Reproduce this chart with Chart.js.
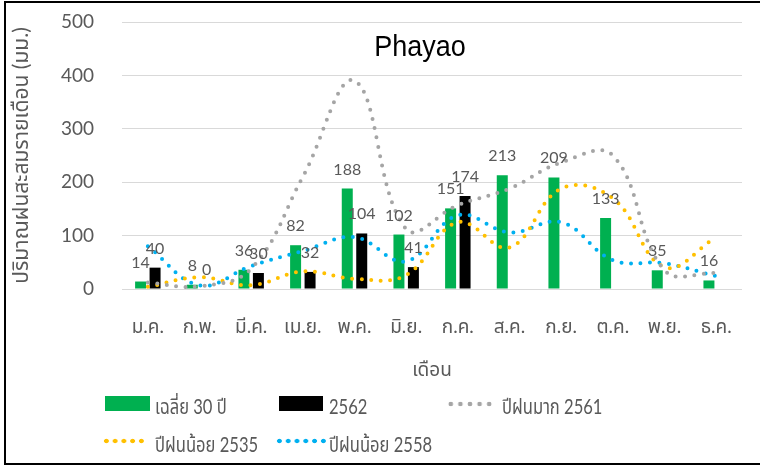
<!DOCTYPE html>
<html>
<head>
<meta charset="utf-8">
<script src="https://cdn.jsdelivr.net/npm/chart.js@4.4.0/dist/chart.umd.min.js"></script>
<style>
    body { margin: 0; background: #fff; }
    #wrap { position: relative; width: 760px; height: 467px; overflow: hidden; font-family: Lato, "Noto Sans Thai", "Noto Sans", sans-serif; color: #595959; }
    #frame { position: absolute; left: 4px; top: 1px; width: 800px; height: 464px; border: 2px solid #000; box-sizing: border-box; }
    #chart { position: absolute; left: 0; top: 0; }
    #title { position: absolute; left: 320px; width: 200px; top: 33px; text-align: center; font: 27px/27px "Liberation Sans", Arial, sans-serif; color: #000; transform: scaleY(1.12); }
    .lg-text { position: absolute; font-size: 18px; line-height: 18px; white-space: nowrap; transform: scale(0.92, 1.15); transform-origin: left center; }
    .lg-box { position: absolute; height: 15px; }
    .lg-dots { position: absolute; height: 6px; background-repeat: repeat-x; }
</style>
</head>
<body>
<div id="wrap">
    <canvas id="chart" width="760" height="467"></canvas>
    <div id="frame"></div>
    <div id="title">Phayao</div>
    <div id="legend"></div>
</div>
<script>
    const months = ["ม.ค.", "ก.พ.", "มี.ค.", "เม.ย.", "พ.ค.", "มิ.ย.", "ก.ค.", "ส.ค.", "ก.ย.", "ต.ค.", "พ.ย.", "ธ.ค."];
    const avg30 = [14, 8, 36, 82, 188, 102, 151, 213, 209, 133, 35, 16];
    const rain2562 = [40, 0, 30, 32, 104, 41, 174, null, null, null, null, null];
    const wet2561 = [12, 5, 38, 210, 390, 112, 157, 188, 237, 250, 35, 30];
    const dry2535 = [4, 22, 7, 33, 19, 26, 125, 78, 188, 170, 41, 97];
    const dry2558 = [80, 7, 43, 71, 97, 52, 138, 106, 125, 54, 48, 24];
    const yTicks = [0, 100, 200, 300, 400, 500];

    const green = "#00B050";
    const gray = "#A5A5A5";
    const yellow = "#FFC000";
    const blue = "#00B0F0";

    // value labels above the bars
    const barLabels = {
        id: "barLabels",
        afterDraw(chart) {
            const ctx = chart.ctx;
            ctx.save();
            ctx.font = "16px Lato";
            ctx.fillStyle = "#595959";
            ctx.textAlign = "center";
            ctx.textBaseline = "alphabetic";
            [0, 1].forEach(i => {
                chart.getDatasetMeta(i).data.forEach((bar, j) => {
                    const v = chart.data.datasets[i].data[j];
                    if (v === null) return;
                    ctx.fillText(v, bar.x, bar.y - 14);
                });
            });
            ctx.restore();
        }
    };

    function dotted(label, data, color) {
        return {
            type: "line",
            label: label,
            data: data,
            borderColor: color,
            backgroundColor: color,
            borderWidth: 4,
            borderDash: [0, 9.5],
            borderCapStyle: "round",
            pointRadius: 0,
            tension: 0.4,
            fill: false,
            order: 1
        };
    }

    new Chart(document.getElementById("chart"), {
        type: "bar",
        data: {
            labels: months,
            datasets: [
                { label: "เฉลี่ย 30 ปี", data: avg30, backgroundColor: green, categoryPercentage: 0.56, barPercentage: 0.76, order: 2 },
                { label: "2562", data: rain2562, backgroundColor: "#000", categoryPercentage: 0.56, barPercentage: 0.76, order: 2 },
                dotted("ปีฝนมาก 2561", wet2561, gray),
                dotted("ปีฝนน้อย 2535", dry2535, yellow),
                dotted("ปีฝนน้อย 2558", dry2558, blue)
            ]
        },
        options: {
            responsive: false,
            animation: false,
            layout: { padding: { left: 5, right: 18, top: 22, bottom: 82 } },
            plugins: { legend: { display: false }, tooltip: { enabled: false } },
            scales: {
                x: {
                    grid: { display: false, drawTicks: false },
                    border: { display: false },
                    ticks: { color: "#595959", font: { size: 19, family: "Lato, 'Noto Sans Thai', sans-serif" }, padding: 26, maxRotation: 0 },
                    title: { display: true, text: "เดือน", color: "#595959", font: { size: 19, family: "Lato, 'Noto Sans Thai', sans-serif" } },
                    afterFit: axis => { axis.height = 96; }
                },
                y: {
                    min: 0,
                    max: 500,
                    afterBuildTicks: axis => { axis.ticks = yTicks.map(v => ({ value: v })); },
                    grid: { color: "#D9D9D9", drawTicks: true, tickLength: 27, tickColor: "rgba(0,0,0,0)" },
                    border: { display: false },
                    ticks: { color: "#595959", font: { size: 19, family: "Lato, sans-serif" }, padding: 1 },
                    title: { display: true, text: "ปริมาณฝนสะสมรายเดือน (มม.)", color: "#595959", font: { size: 21, family: "Lato, 'Noto Sans Thai', sans-serif" } },
                    afterFit: axis => { axis.width = 117; }
                }
            }
        },
        plugins: [barLabels]
    });

    // legend laid out like the original, two rows
    const legend = document.getElementById("legend");
    function dots(color, spacing) {
        return `background-image: radial-gradient(circle at center, ${color} 0, ${color} 2px, transparent 2.6px); background-size: ${spacing}px 6px;`;
    }
    legend.innerHTML = `
        <div class="lg-box" style="left:105px; top:396px; width:45px; background:${green}"></div>
        <div class="lg-text" style="left:155px; top:397px">เฉลี่ย 30 ปี</div>
        <div class="lg-box" style="left:279px; top:396px; width:44px; background:#000"></div>
        <div class="lg-text" style="left:329px; top:397px">2562</div>
        <div class="lg-dots" style="left:446px; top:401px; width:48px; ${dots(gray, 9.6)}"></div>
        <div class="lg-text" style="left:502px; top:397px">ปีฝนมาก 2561</div>
        <div class="lg-dots" style="left:102px; top:438px; width:44px; ${dots(yellow, 8.75)}"></div>
        <div class="lg-text" style="left:155px; top:435px">ปีฝนน้อย 2535</div>
        <div class="lg-dots" style="left:275px; top:438px; width:53px; ${dots(blue, 8.8)}"></div>
        <div class="lg-text" style="left:329px; top:435px">ปีฝนน้อย 2558</div>
    `;
</script>
</body>
</html>
